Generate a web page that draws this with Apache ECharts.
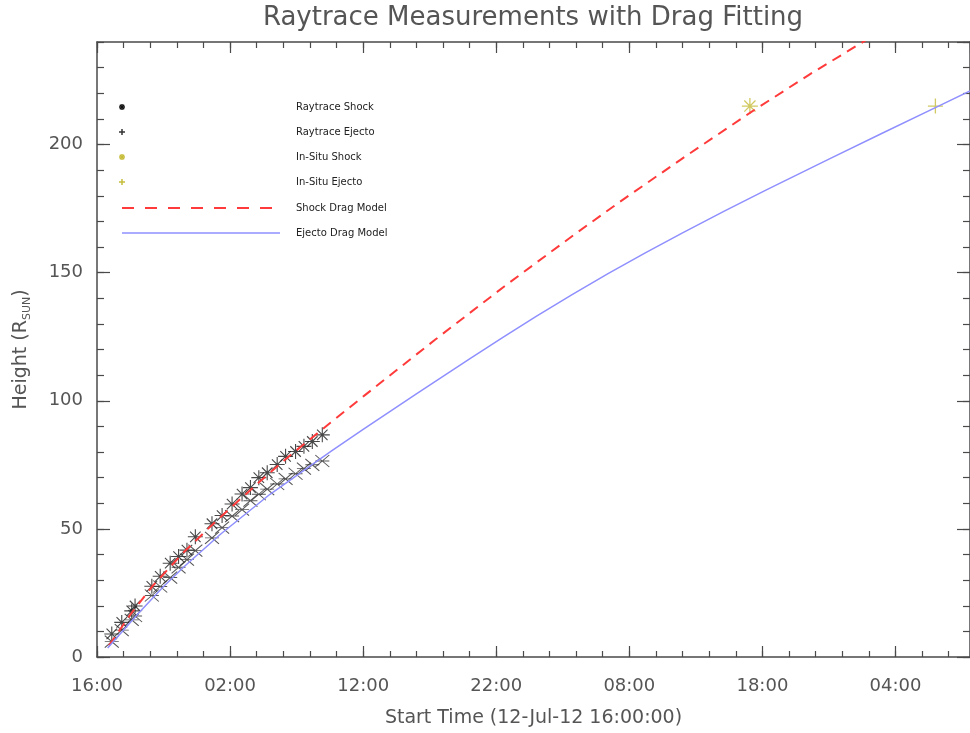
<!DOCTYPE html>
<html>
<head>
<meta charset="utf-8">
<script src="https://cdn.jsdelivr.net/npm/echarts@6/dist/echarts.min.js"></script>
<style>
html,body{margin:0;padding:0;background:#fff;}
#chart{width:970px;height:733px;}
</style>
</head>
<body>
<div id="chart"></div>
<script>
// ---- data (hours since 12-Jul-12 16:00, height in R_sun) ----
const xTickLabels = ['16:00', '02:00', '12:00', '22:00', '08:00', '18:00', '04:00'];
const yTickLabels = ['0', '50', '100', '150', '200'];

const shockT = [1.11, 1.86, 2.61, 2.86, 4.12, 4.75, 5.50, 6.13, 6.76, 7.39, 8.64, 9.40, 10.15, 10.90, 11.53, 12.16, 12.79, 13.54, 14.17, 14.92, 15.55, 16.18, 16.93];
const shockH = [9.0, 13.5, 18.0, 19.9, 27.6, 31.5, 36.6, 39.2, 41.7, 46.9, 52.0, 55.2, 59.7, 63.6, 66.1, 70.0, 71.9, 75.1, 78.3, 80.2, 82.2, 84.1, 86.7];

const ejectaT = [1.11, 1.86, 2.61, 2.86, 4.12, 4.75, 5.50, 6.13, 6.76, 7.39, 8.64, 9.40, 10.15, 10.90, 11.53, 12.16, 12.79, 13.54, 14.17, 14.92, 15.55, 16.18, 16.93];
const ejectaH = [6.0, 10.5, 14.5, 16.0, 24.0, 27.5, 31.0, 35.0, 38.0, 41.5, 46.5, 50.5, 55.0, 57.5, 61.0, 63.5, 65.5, 67.5, 69.5, 71.5, 73.5, 75.0, 76.5];

const inSituShockT = [49.06];
const inSituShockH = [215];
const inSituEjectaT = [63.0];
const inSituEjectaH = [215];

const shockModelT = [0.9, 2.5, 4.14, 6.5, 8.9, 12.3, 14.5, 17.56, 20.16, 25.4, 30.6, 35.8, 39.2, 44.0, 49.2, 53.5, 57.9];
const shockModelH = [4.5, 16.5, 27.5, 40.8, 52.8, 68.8, 78.6, 91.5, 102.3, 123.8, 144.6, 164.6, 177.3, 194.6, 212.8, 227.2, 241.1];

const ejectaModelT = [0.8, 1.4, 3.1, 5.0, 6.6, 9.3, 13.0, 16.0, 17.6, 20.0, 24.0, 28.0, 30.5, 33.0, 35.7, 38.4, 41.2, 44.0, 47.1, 50.3, 55.0, 59.0, 63.0, 65.6];
const ejectaModelH = [3.5, 7.0, 17.0, 27.5, 35.5, 48.0, 63.5, 74.5, 80.3, 88.8, 102.7, 116.3, 124.7, 132.9, 141.4, 149.6, 157.7, 165.5, 173.9, 182.3, 194.3, 204.4, 214.4, 220.9];

const legendNames = ['Raytrace Shock', 'Raytrace Ejecto', 'In-Situ Shock', 'In-Situ Ejecto', 'Shock Drag Model', 'Ejecto Drag Model'];

// ---- helpers ----
const zip = (a, b) => a.map((v, i) => [v, b[i]]);
const ASTERISK = 'path://M5 0L5 10M0 5L10 5M1.5 1.5L8.5 8.5M8.5 1.5L1.5 8.5';
const EJX = 'path://M0 0L10 10M10 0L0 10M0 5L10 5';
const PLUS = 'path://M5 0L5 10M0 5L10 5';
const OLIVE = '#c6bc3a';
const RED = '#ff3a3a';
const BLUE = '#8f8fff';
const AXC = '#4a4a4a';
const FONT = "'DejaVu Sans', sans-serif";

const XMAX = 65.6, YMAX = 240;

function xAxisDef(pos, interval, len, showLabel, showLine) {
  return {
    type: 'value', position: pos, min: 0, max: XMAX, interval: interval,
    axisLine: { show: showLine, onZero: false, lineStyle: { color: AXC, width: 1.5 } },
    axisTick: { show: true, inside: true, length: len, lineStyle: { color: AXC, width: 1.2 } },
    axisLabel: showLabel ? {
      show: true, margin: 20, color: '#555', fontSize: 18, fontFamily: FONT,
      showMaxLabel: false,
      formatter: v => (Math.abs(v % 10) < 1e-6 ? xTickLabels[Math.round(v / 10)] : '')
    } : { show: false },
    splitLine: { show: false }
  };
}
function yAxisDef(pos, interval, len, showLabel, showLine) {
  return {
    type: 'value', position: pos, min: 0, max: YMAX, interval: interval,
    axisLine: { show: showLine, onZero: false, lineStyle: { color: AXC, width: 1.5 } },
    axisTick: { show: true, inside: true, length: len, lineStyle: { color: AXC, width: 1.2 } },
    axisLabel: showLabel ? {
      show: true, margin: 14, color: '#555', fontSize: 18, fontFamily: FONT,
      showMaxLabel: false,
      formatter: v => (Math.abs(v % 50) < 1e-6 ? yTickLabels[Math.round(v / 50)] : '')
    } : { show: false },
    splitLine: { show: false }
  };
}

const xAxes = [
  Object.assign(xAxisDef('bottom', 10, 11, true, true), {
    name: 'Start Time (12-Jul-12 16:00:00)', nameLocation: 'middle', nameGap: 52,
    nameTextStyle: { color: '#555', fontSize: 19, fontFamily: FONT }
  }),
  xAxisDef('bottom', 2, 6, false, false),
  xAxisDef('top', 10, 11, false, true),
  xAxisDef('top', 2, 6, false, false)
];
const yAxes = [
  Object.assign(yAxisDef('left', 50, 13, true, true), {
    name: '{a|Height (R}{s|SUN}{a|)}', nameLocation: 'middle', nameGap: 64, nameRotate: 90,
    nameTextStyle: {
      rich: {
        a: { color: '#555', fontSize: 19, fontFamily: FONT, lineHeight: 24, verticalAlign: 'middle' },
        s: { color: '#555', fontSize: 11, fontFamily: FONT, lineHeight: 24, verticalAlign: 'bottom', padding: [8, 0, 0, 0] }
      }
    }
  }),
  yAxisDef('left', 10, 7, false, false),
  yAxisDef('right', 50, 13, false, true),
  yAxisDef('right', 10, 7, false, false)
];

// legend drawn as graphic elements
const legendY = [107, 132, 157, 182, 208, 233];
const legendGraphics = [];
legendNames.forEach((name, i) => {
  legendGraphics.push({
    type: 'text', x: 296, y: legendY[i],
    style: { text: name, fontSize: 10, fontFamily: FONT, fill: '#222', verticalAlign: 'middle', align: 'left' }
  });
});
function segs(cx, cy, r, diag) {
  const s = [[cx - r, cy, cx + r, cy], [cx, cy - r, cx, cy + r]];
  if (diag) {
    const d = r * 0.72;
    s.push([cx - d, cy - d, cx + d, cy + d], [cx + d, cy - d, cx - d, cy + d]);
  }
  return s;
}
const symLegend = [
  { diag: true, color: '#111' },
  { diag: false, color: '#333' },
  { diag: true, color: OLIVE },
  { diag: false, color: OLIVE }
];
symLegend.forEach((s, i) => {
  segs(122, legendY[i], 3, s.diag).forEach(l => {
    legendGraphics.push({
      type: 'line', shape: { x1: l[0], y1: l[1], x2: l[2], y2: l[3] },
      style: { stroke: s.color, lineWidth: 1.5 }
    });
  });
});
legendGraphics.push({
  type: 'line', shape: { x1: 122, y1: legendY[4], x2: 278, y2: legendY[4] },
  style: { stroke: RED, lineWidth: 2, lineDash: [12, 11] }
});
legendGraphics.push({
  type: 'line', shape: { x1: 122, y1: legendY[5], x2: 280, y2: legendY[5] },
  style: { stroke: BLUE, lineWidth: 1.5 }
});

const option = {
  backgroundColor: '#fff',
  animation: false,
  title: {
    text: 'Raytrace Measurements with Drag Fitting',
    left: 533, top: 5, textAlign: 'center', padding: 0,
    textStyle: { color: '#555', fontSize: 26, fontWeight: 'normal', fontFamily: FONT }
  },
  grid: { left: 97, right: 0, top: 42, bottom: 68, containLabel: false },
  xAxis: xAxes,
  yAxis: yAxes,
  graphic: legendGraphics,
  series: [
    {
      name: legendNames[0], type: 'scatter', xAxisIndex: 0, yAxisIndex: 0,
      data: zip(shockT, shockH), symbol: ASTERISK, symbolSize: 15,
      itemStyle: { color: 'rgba(0,0,0,0)', borderColor: '#1a1a1a', borderWidth: 1.1 }, z: 2
    },
    {
      name: legendNames[1], type: 'scatter', xAxisIndex: 0, yAxisIndex: 0,
      data: zip(ejectaT, ejectaH), symbol: EJX, symbolSize: [14, 12],
      itemStyle: { color: 'rgba(0,0,0,0)', borderColor: '#2a2a2a', borderWidth: 1.0 }, z: 2
    },
    {
      name: legendNames[2], type: 'scatter', xAxisIndex: 0, yAxisIndex: 0,
      data: zip(inSituShockT, inSituShockH), symbol: ASTERISK, symbolSize: 16,
      itemStyle: { color: 'rgba(0,0,0,0)', borderColor: OLIVE, borderWidth: 1.3 }, z: 2
    },
    {
      name: legendNames[3], type: 'scatter', xAxisIndex: 0, yAxisIndex: 0,
      data: zip(inSituEjectaT, inSituEjectaH), symbol: PLUS, symbolSize: 15,
      itemStyle: { color: 'rgba(0,0,0,0)', borderColor: OLIVE, borderWidth: 1.3 }, z: 2
    },
    {
      name: legendNames[4], type: 'line', xAxisIndex: 0, yAxisIndex: 0,
      data: zip(shockModelT, shockModelH), showSymbol: false, smooth: false, clip: true,
      lineStyle: { color: RED, width: 2, type: [10, 7] }, z: 3
    },
    {
      name: legendNames[5], type: 'line', xAxisIndex: 0, yAxisIndex: 0,
      data: zip(ejectaModelT, ejectaModelH), showSymbol: false, smooth: false, clip: true,
      lineStyle: { color: BLUE, width: 1.5 }, z: 3
    }
  ]
};

const chart = echarts.init(document.getElementById('chart'), null, { renderer: 'canvas' });
chart.setOption(option);
</script>
</body>
</html>
